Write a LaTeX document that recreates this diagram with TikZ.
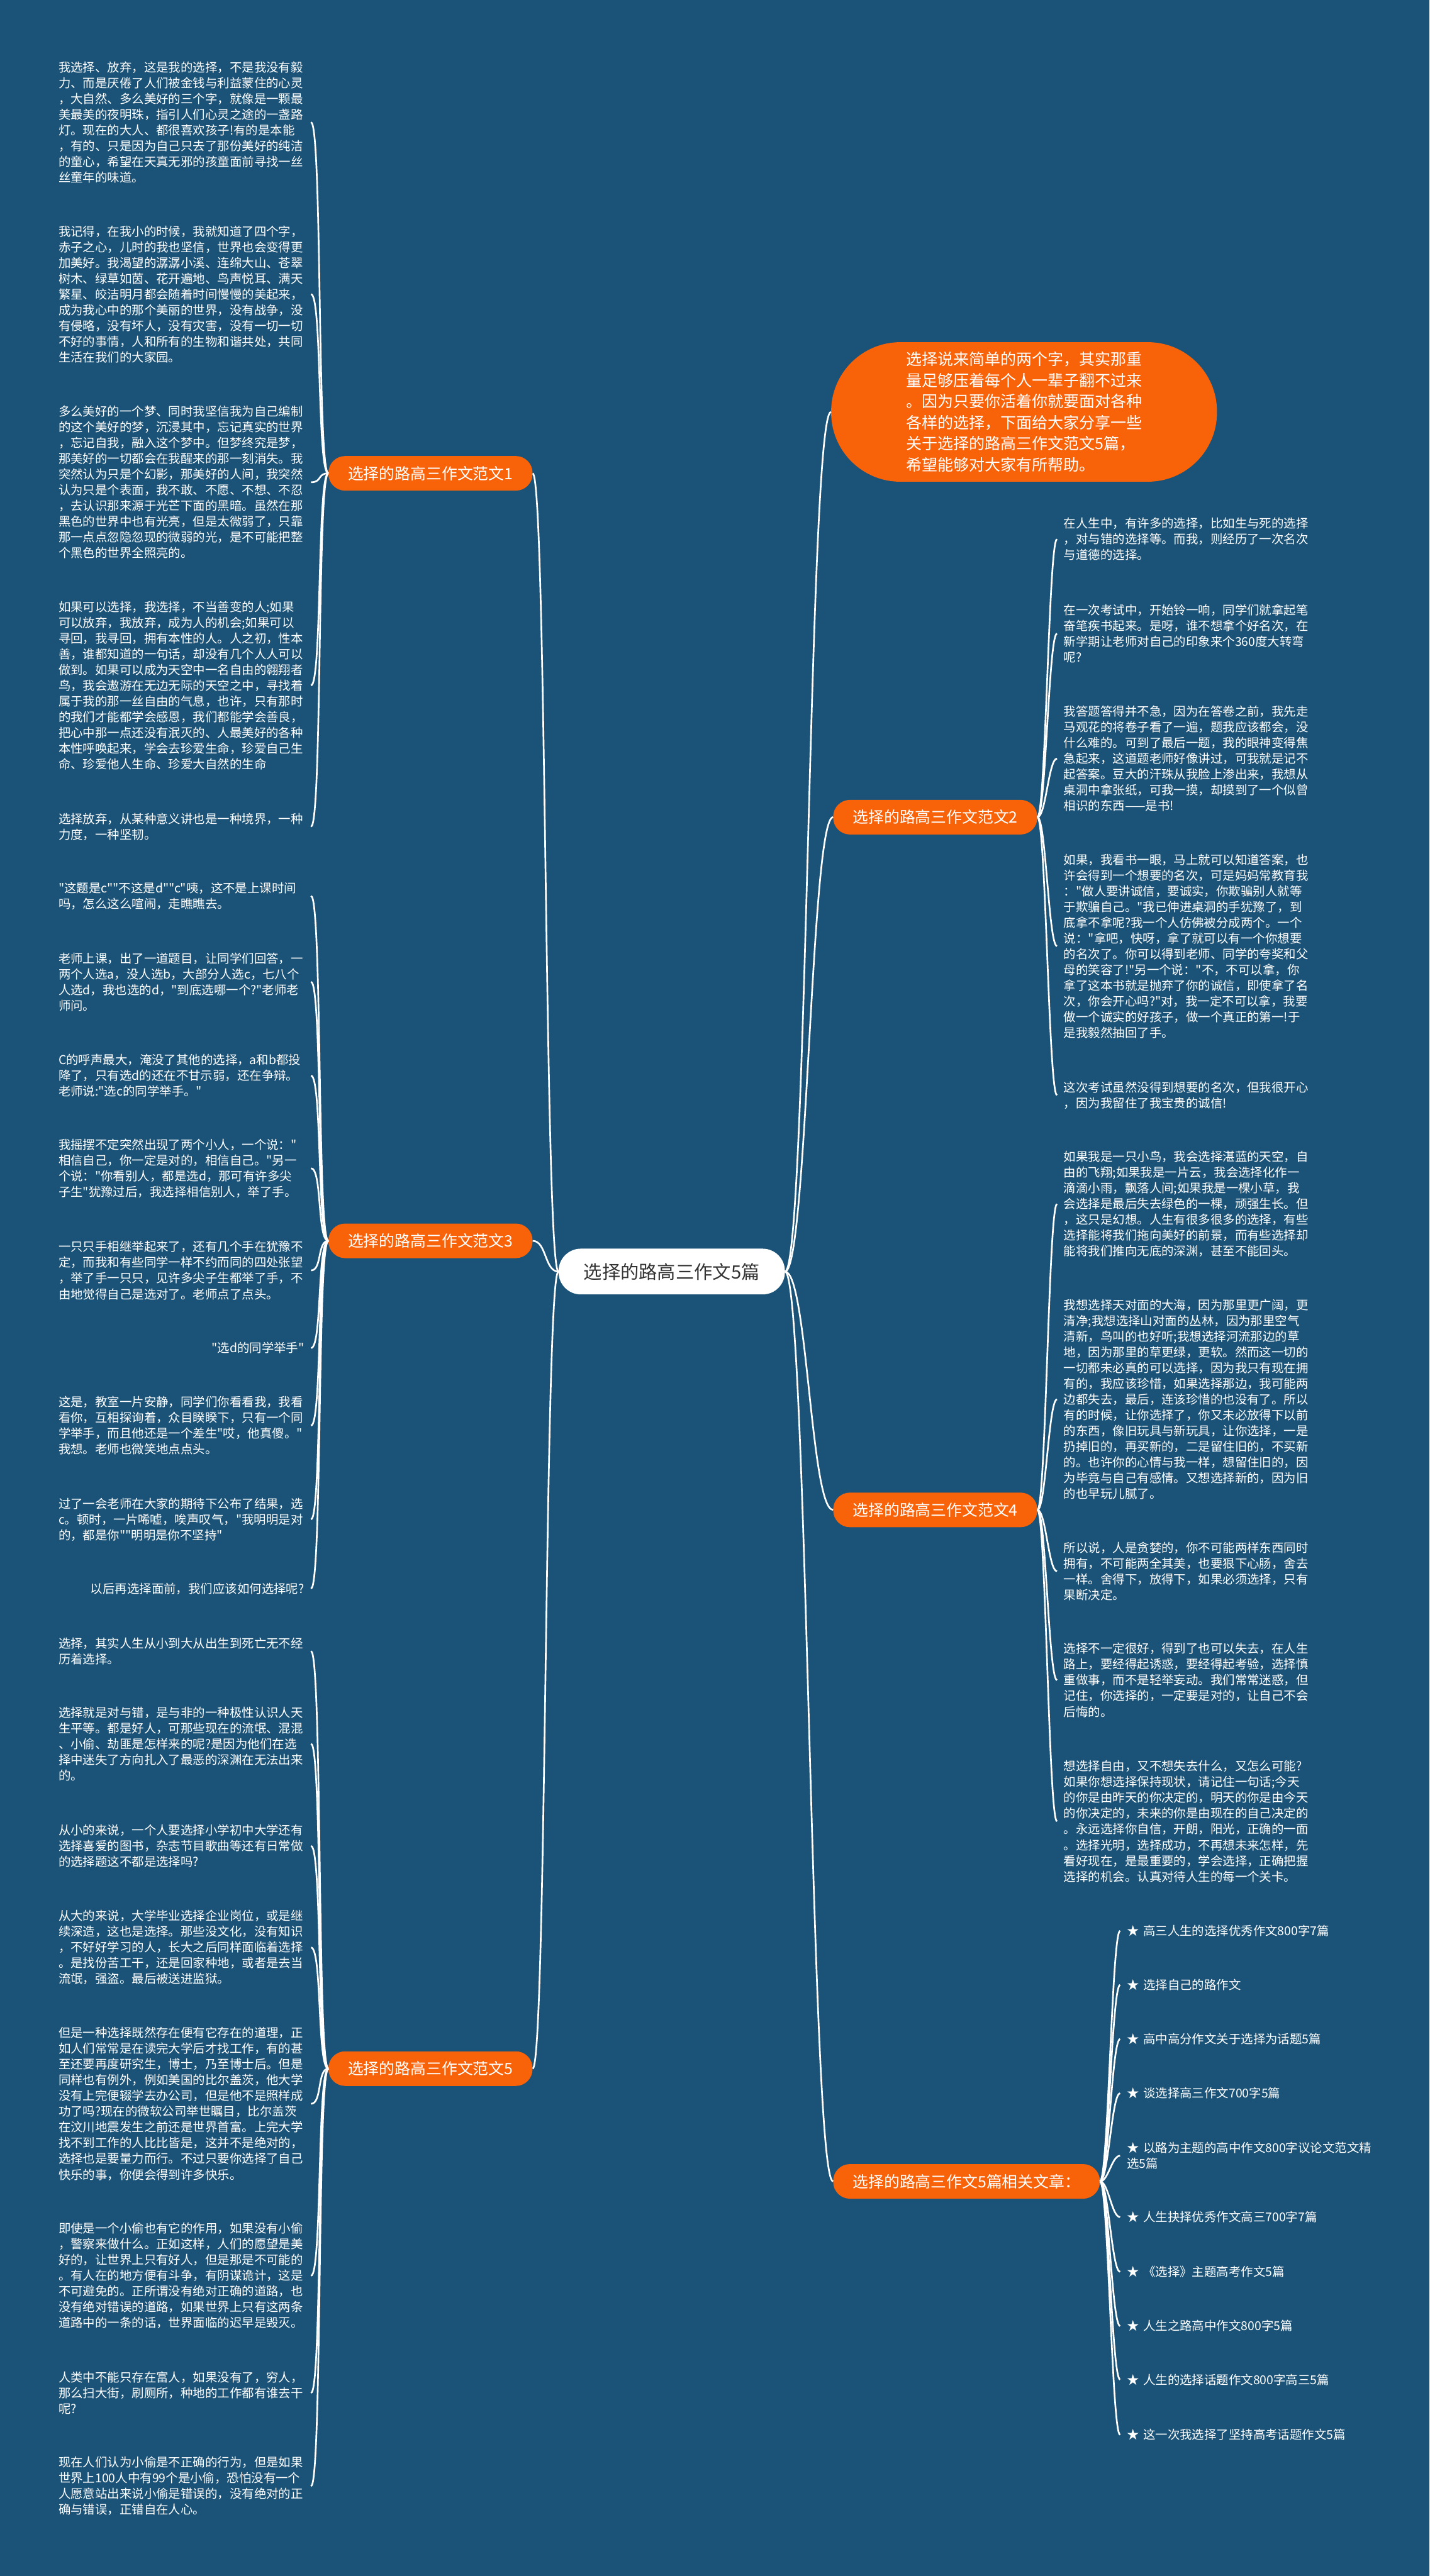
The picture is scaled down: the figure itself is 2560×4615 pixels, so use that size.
\documentclass[tikz,border=0pt]{standalone}
\usepackage{fontspec}
\newfontfamily\cjkfont{Noto Sans CJK SC}
\usetikzlibrary{positioning}
\definecolor{mapBlue}{HTML}{1B5378}
\definecolor{mapOrange}{HTML}{F86208}
\definecolor{rootText}{HTML}{333333}

\begin{document}
\begin{tikzpicture}
          [
          x=1pt, y=-1pt,
          Leaf/.style={align=left, text=white, inner ysep=0pt, inner xsep=12pt, font=\cjkfont\fontsize{21.9}{28.2}\selectfont},
          LeafL/.style={Leaf, text width=440pt, anchor=east},
          ShortL/.style={Leaf, anchor=east},
          LeafR/.style={Leaf, text width=440pt, anchor=west},
          Branch/.style={anchor=#1, fill=mapOrange, text=white, rounded corners=30pt, minimum height=62pt, inner xsep=35pt, font=\cjkfont\fontsize{28}{34}\selectfont},
          Root/.style={fill=white, text=rootText, rounded corners=40pt, minimum height=82pt, inner xsep=45pt, font=\cjkfont\fontsize{33}{40}\selectfont},
          Bubble/.style={fill=mapOrange, text=white, rounded corners=124pt, minimum width=691pt, minimum height=250pt, align=left, font=\cjkfont\fontsize{28.2}{37.7}\selectfont},
          Link/.style={draw=white, line width=3pt, to path={.. controls +(#1,0) and +(-#1,0) .. (\tikztotarget)}},
          ]
          \fill[mapBlue] (0,0) rectangle (2560,4615);

          % Nodes
          \node[Root] (Root) at(1203, 2278) {选择的路高三作文5篇};
          \node[Bubble] (Intro) at(1834, 738) {选择说来简单的两个字，其实那重\\
            量足够压着每个人一辈子翻不过来\\
            。因为只要你活着你就要面对各种\\
            各样的选择，下面给大家分享一些\\
            关于选择的路高三作文范文5篇，\\
            希望能够对大家有所帮助。};
          \node[Branch=west] (B1) at(588, 848) {选择的路高三作文范文1};
          \node[Branch=west] (B3) at(588, 2223) {选择的路高三作文范文3};
          \node[Branch=west] (B5) at(588, 3706) {选择的路高三作文范文5};
          \node[Branch=west] (B2) at(1492, 1464) {选择的路高三作文范文2};
          \node[Branch=west] (B4) at(1492, 2705) {选择的路高三作文范文4};
          \node[Branch=west] (B6) at(1492, 3908) {选择的路高三作文5篇相关文章：};

          % essay 1
          \node[LeafL] (L1a) at(557, 219) {我选择、放弃，这是我的选择，不是我没有毅\\
            力、而是厌倦了人们被金钱与利益蒙住的心灵\\
            ，大自然、多么美好的三个字，就像是一颗最\\
            美最美的夜明珠，指引人们心灵之途的一盏路\\
            灯。现在的大人、都很喜欢孩子!有的是本能\\
            ，有的、只是因为自己只去了那份美好的纯洁\\
            的童心，希望在天真无邪的孩童面前寻找一丝\\
            丝童年的味道。};
          \node[LeafL] (L1b) at(557, 527) {我记得，在我小的时候，我就知道了四个字，\\
            赤子之心，儿时的我也坚信，世界也会变得更\\
            加美好。我渴望的潺潺小溪、连绵大山、苍翠\\
            树木、绿草如茵、花开遍地、鸟声悦耳、满天\\
            繁星、皎洁明月都会随着时间慢慢的美起来，\\
            成为我心中的那个美丽的世界，没有战争，没\\
            有侵略，没有坏人，没有灾害，没有一切一切\\
            不好的事情，人和所有的生物和谐共处，共同\\
            生活在我们的大家园。};
          \node[LeafL] (L1c) at(557, 864) {多么美好的一个梦、同时我坚信我为自己编制\\
            的这个美好的梦，沉浸其中，忘记真实的世界\\
            ，忘记自我，融入这个梦中。但梦终究是梦，\\
            那美好的一切都会在我醒来的那一刻消失。我\\
            突然认为只是个幻影，那美好的人间，我突然\\
            认为只是个表面，我不敢、不愿、不想、不忍\\
            ，去认识那来源于光芒下面的黑暗。虽然在那\\
            黑色的世界中也有光亮，但是太微弱了，只靠\\
            那一点点忽隐忽现的微弱的光，是不可能把整\\
            个黑色的世界全照亮的。};
          \node[LeafL] (L1d) at(557, 1228) {如果可以选择，我选择，不当善变的人;如果\\
            可以放弃，我放弃，成为人的机会;如果可以\\
            寻回，我寻回，拥有本性的人。人之初，性本\\
            善，谁都知道的一句话，却没有几个人人可以\\
            做到。如果可以成为天空中一名自由的翱翔者\\
            鸟，我会遨游在无边无际的天空之中，寻找着\\
            属于我的那一丝自由的气息，也许，只有那时\\
            的我们才能都学会感恩，我们都能学会善良，\\
            把心中那一点还没有泯灭的、人最美好的各种\\
            本性呼唤起来，学会去珍爱生命，珍爱自己生\\
            命、珍爱他人生命、珍爱大自然的生命};
          \node[LeafL] (L1e) at(557, 1481) {选择放弃，从某种意义讲也是一种境界，一种\\
            力度，一种坚韧。};

          % essay 3
          \node[LeafL] (L3a) at(557, 1605) {"这题是c""不这是d""c"咦，这不是上课时间\\
            吗，怎么这么喧闹，走瞧瞧去。};
          \node[LeafL] (L3b) at(557, 1759) {老师上课，出了一道题目，让同学们回答，一\\
            两个人选a，没人选b，大部分人选c，七八个\\
            人选d，我也选的d，"到底选哪一个?"老师老\\
            师问。};
          \node[LeafL] (L3c) at(557, 1927) {C的呼声最大，淹没了其他的选择，a和b都投\\
            降了，只有选d的还在不甘示弱，还在争辩。\\
            老师说:"选c的同学举手。"};
          \node[LeafL] (L3d) at(557, 2093) {我摇摆不定突然出现了两个小人，一个说："\\
            相信自己，你一定是对的，相信自己。"另一\\
            个说："你看别人，都是选d，那可有许多尖\\
            子生"犹豫过后，我选择相信别人，举了手。};
          \node[LeafL] (L3e) at(557, 2276) {一只只手相继举起来了，还有几个手在犹豫不\\
            定，而我和有些同学一样不约而同的四处张望\\
            ，举了手一只只，见许多尖子生都举了手，不\\
            由地觉得自己是选对了。老师点了点头。};
          \node[ShortL] (L3f) at(557, 2415) {"选d的同学举手"};
          \node[LeafL] (L3g) at(557, 2554) {这是，教室一片安静，同学们你看看我，我看\\
            看你，互相探询着，众目睽睽下，只有一个同\\
            学举手，而且他还是一个差生"哎，他真傻。"\\
            我想。老师也微笑地点点头。};
          \node[LeafL] (L3h) at(557, 2722) {过了一会老师在大家的期待下公布了结果，选\\
            c。顿时，一片唏嘘，唉声叹气，"我明明是对\\
            的，都是你""明明是你不坚持"};
          \node[ShortL] (L3i) at(557, 2846) {以后再选择面前，我们应该如何选择呢?};

          % essay 5
          \node[LeafL] (L5a) at(557, 2958) {选择，其实人生从小到大从出生到死亡无不经\\
            历着选择。};
          \node[LeafL] (L5b) at(557, 3124) {选择就是对与错，是与非的一种极性认识人天\\
            生平等。都是好人，可那些现在的流氓、混混\\
            、小偷、劫匪是怎样来的呢?是因为他们在选\\
            择中迷失了方向扎入了最恶的深渊在无法出来\\
            的。};
          \node[LeafL] (L5c) at(557, 3307) {从小的来说，一个人要选择小学初中大学还有\\
            选择喜爱的图书，杂志节目歌曲等还有日常做\\
            的选择题这不都是选择吗?};
          \node[LeafL] (L5d) at(557, 3489) {从大的来说，大学毕业选择企业岗位，或是继\\
            续深造，这也是选择。那些没文化，没有知识\\
            ，不好好学习的人，长大之后同样面临着选择\\
            。是找份苦工干，还是回家种地，或者是去当\\
            流氓，强盗。最后被送进监狱。};
          \node[LeafL] (L5e) at(557, 3769) {但是一种选择既然存在便有它存在的道理，正\\
            如人们常常是在读完大学后才找工作，有的甚\\
            至还要再度研究生，博士，乃至博士后。但是\\
            同样也有例外，例如美国的比尔盖茨，他大学\\
            没有上完便辍学去办公司，但是他不是照样成\\
            功了吗?现在的微软公司举世瞩目，比尔盖茨\\
            在汶川地震发生之前还是世界首富。上完大学\\
            找不到工作的人比比皆是，这并不是绝对的，\\
            选择也是要量力而行。不过只要你选择了自己\\
            快乐的事，你便会得到许多快乐。};
          \node[LeafL] (L5f) at(557, 4077) {即使是一个小偷也有它的作用，如果没有小偷\\
            ，警察来做什么。正如这样，人们的愿望是美\\
            好的，让世界上只有好人，但是那是不可能的\\
            。有人在的地方便有斗争，有阴谋诡计，这是\\
            不可避免的。正所谓没有绝对正确的道路，也\\
            没有绝对错误的道路，如果世界上只有这两条\\
            道路中的一条的话，世界面临的迟早是毁灭。};
          \node[LeafL] (L5g) at(557, 4287) {人类中不能只存在富人，如果没有了，穷人，\\
            那么扫大街，刷厕所，种地的工作都有谁去干\\
            呢?};
          \node[LeafL] (L5h) at(557, 4454) {现在人们认为小偷是不正确的行为，但是如果\\
            世界上100人中有99个是小偷，恐怕没有一个\\
            人愿意站出来说小偷是错误的，没有绝对的正\\
            确与错误，正错自在人心。};

          % essay 2
          \node[LeafR] (R2a) at(1893, 966) {在人生中，有许多的选择，比如生与死的选择\\
            ，对与错的选择等。而我，则经历了一次名次\\
            与道德的选择。};
          \node[LeafR] (R2b) at(1893, 1135) {在一次考试中，开始铃一响，同学们就拿起笔\\
            奋笔疾书起来。是呀，谁不想拿个好名次，在\\
            新学期让老师对自己的印象来个360度大转弯\\
            呢?};
          \node[LeafR] (R2c) at(1893, 1359) {我答题答得并不急，因为在答卷之前，我先走\\
            马观花的将卷子看了一遍，题我应该都会，没\\
            什么难的。可到了最后一题，我的眼神变得焦\\
            急起来，这道题老师好像讲过，可我就是记不\\
            起答案。豆大的汗珠从我脸上渗出来，我想从\\
            桌洞中拿张纸，可我一摸，却摸到了一个似曾\\
            相识的东西——是书!};
          \node[LeafR] (R2d) at(1893, 1695) {如果，我看书一眼，马上就可以知道答案，也\\
            许会得到一个想要的名次，可是妈妈常教育我\\
            ："做人要讲诚信，要诚实，你欺骗别人就等\\
            于欺骗自己。"我已伸进桌洞的手犹豫了，到\\
            底拿不拿呢?我一个人仿佛被分成两个。一个\\
            说："拿吧，快呀，拿了就可以有一个你想要\\
            的名次了。你可以得到老师、同学的夸奖和父\\
            母的笑容了!"另一个说："不，不可以拿，你\\
            拿了这本书就是抛弃了你的诚信，即使拿了名\\
            次，你会开心吗?"对，我一定不可以拿，我要\\
            做一个诚实的好孩子，做一个真正的第一!于\\
            是我毅然抽回了手。};
          \node[LeafR] (R2e) at(1893, 1962) {这次考试虽然没得到想要的名次，但我很开心\\
            ，因为我留住了我宝贵的诚信!};

          % essay 4
          \node[LeafR] (R4a) at(1893, 2157) {如果我是一只小鸟，我会选择湛蓝的天空，自\\
            由的飞翔;如果我是一片云，我会选择化作一\\
            滴滴小雨，飘落人间;如果我是一棵小草，我\\
            会选择是最后失去绿色的一棵，顽强生长。但\\
            ，这只是幻想。人生有很多很多的选择，有些\\
            选择能将我们拖向美好的前景，而有些选择却\\
            能将我们推向无底的深渊，甚至不能回头。};
          \node[LeafR] (R4b) at(1893, 2507) {我想选择天对面的大海，因为那里更广阔，更\\
            清净;我想选择山对面的丛林，因为那里空气\\
            清新，鸟叫的也好听;我想选择河流那边的草\\
            地，因为那里的草更绿，更软。然而这一切的\\
            一切都未必真的可以选择，因为我只有现在拥\\
            有的，我应该珍惜，如果选择那边，我可能两\\
            边都失去，最后，连该珍惜的也没有了。所以\\
            有的时候，让你选择了，你又未必放得下以前\\
            的东西，像旧玩具与新玩具，让你选择，一是\\
            扔掉旧的，再买新的，二是留住旧的，不买新\\
            的。也许你的心情与我一样，想留住旧的，因\\
            为毕竟与自己有感情。又想选择新的，因为旧\\
            的也早玩儿腻了。};
          \node[LeafR] (R4c) at(1893, 2815) {所以说，人是贪婪的，你不可能两样东西同时\\
            拥有，不可能两全其美，也要狠下心肠，舍去\\
            一样。舍得下，放得下，如果必须选择，只有\\
            果断决定。};
          \node[LeafR] (R4d) at(1893, 3010) {选择不一定很好，得到了也可以失去，在人生\\
            路上，要经得起诱惑，要经得起考验，选择慎\\
            重做事，而不是轻举妄动。我们常常迷惑，但\\
            记住，你选择的，一定要是对的，让自己不会\\
            后悔的。};
          \node[LeafR] (R4e) at(1893, 3263) {想选择自由，又不想失去什么，又怎么可能?\\
            如果你想选择保持现状，请记住一句话;今天\\
            的你是由昨天的你决定的，明天的你是由今天\\
            的你决定的，未来的你是由现在的自己决定的\\
            。永远选择你自信，开朗，阳光，正确的一面\\
            。选择光明，选择成功，不再想未来怎样，先\\
            看好现在，是最重要的，学会选择，正确把握\\
            选择的机会。认真对待人生的每一个关卡。};

          % related articles
          \node[LeafR] (A1) at(2006, 3459) {★ 高三人生的选择优秀作文800字7篇};
          \node[LeafR] (A2) at(2006, 3556) {★ 选择自己的路作文};
          \node[LeafR] (A3) at(2006, 3653) {★ 高中高分作文关于选择为话题5篇};
          \node[LeafR] (A4) at(2006, 3750) {★ 谈选择高三作文700字5篇};
          \node[LeafR] (A5) at(2006, 3862) {★ 以路为主题的高中作文800字议论文范文精\\
            选5篇};
          \node[LeafR] (A6) at(2006, 3972) {★ 人生抉择优秀作文高三700字7篇};
          \node[LeafR] (A7) at(2006, 4070) {★ 《选择》主题高考作文5篇};
          \node[LeafR] (A8) at(2006, 4167) {★ 人生之路高中作文800字5篇};
          \node[LeafR] (A9) at(2006, 4263) {★ 人生的选择话题作文800字高三5篇};
          \node[LeafR] (A10) at(2006, 4362) {★ 这一次我选择了坚持高考话题作文5篇};

          % Lines
          \path [Link=-25] (Root.west) to (B1.east);
          \path [Link=-25] (Root.west) to (B3.east);
          \path [Link=-25] (Root.west) to (B5.east);
          \path [Link=40] (Root.east) to (Intro.west);
          \path [Link=40] (Root.east) to (B2.west);
          \path [Link=40] (Root.east) to (B4.west);
          \path [Link=40] (Root.east) to (B6.west);

          \path [Link=-20] (B1.west) to (L1a.east);
          \path [Link=-20] (B1.west) to (L1b.east);
          \path [Link=-20] (B1.west) to (L1c.east);
          \path [Link=-20] (B1.west) to (L1d.east);
          \path [Link=-20] (B1.west) to (L1e.east);

          \path [Link=-20] (B3.west) to (L3a.east);
          \path [Link=-20] (B3.west) to (L3b.east);
          \path [Link=-20] (B3.west) to (L3c.east);
          \path [Link=-20] (B3.west) to (L3d.east);
          \path [Link=-20] (B3.west) to (L3e.east);
          \path [Link=-20] (B3.west) to (L3f.east);
          \path [Link=-20] (B3.west) to (L3g.east);
          \path [Link=-20] (B3.west) to (L3h.east);
          \path [Link=-20] (B3.west) to (L3i.east);

          \path [Link=-20] (B5.west) to (L5a.east);
          \path [Link=-20] (B5.west) to (L5b.east);
          \path [Link=-20] (B5.west) to (L5c.east);
          \path [Link=-20] (B5.west) to (L5d.east);
          \path [Link=-20] (B5.west) to (L5e.east);
          \path [Link=-20] (B5.west) to (L5f.east);
          \path [Link=-20] (B5.west) to (L5g.east);
          \path [Link=-20] (B5.west) to (L5h.east);

          \path [Link=15] (B2.east) to (R2a.west);
          \path [Link=15] (B2.east) to (R2b.west);
          \path [Link=15] (B2.east) to (R2c.west);
          \path [Link=15] (B2.east) to (R2d.west);
          \path [Link=15] (B2.east) to (R2e.west);

          \path [Link=15] (B4.east) to (R4a.west);
          \path [Link=15] (B4.east) to (R4b.west);
          \path [Link=15] (B4.east) to (R4c.west);
          \path [Link=15] (B4.east) to (R4d.west);
          \path [Link=15] (B4.east) to (R4e.west);

          \path [Link=15] (B6.east) to (A1.west);
          \path [Link=15] (B6.east) to (A2.west);
          \path [Link=15] (B6.east) to (A3.west);
          \path [Link=15] (B6.east) to (A4.west);
          \path [Link=15] (B6.east) to (A5.west);
          \path [Link=15] (B6.east) to (A6.west);
          \path [Link=15] (B6.east) to (A7.west);
          \path [Link=15] (B6.east) to (A8.west);
          \path [Link=15] (B6.east) to (A9.west);
          \path [Link=15] (B6.east) to (A10.west);

        \end{tikzpicture}
\end{document}
